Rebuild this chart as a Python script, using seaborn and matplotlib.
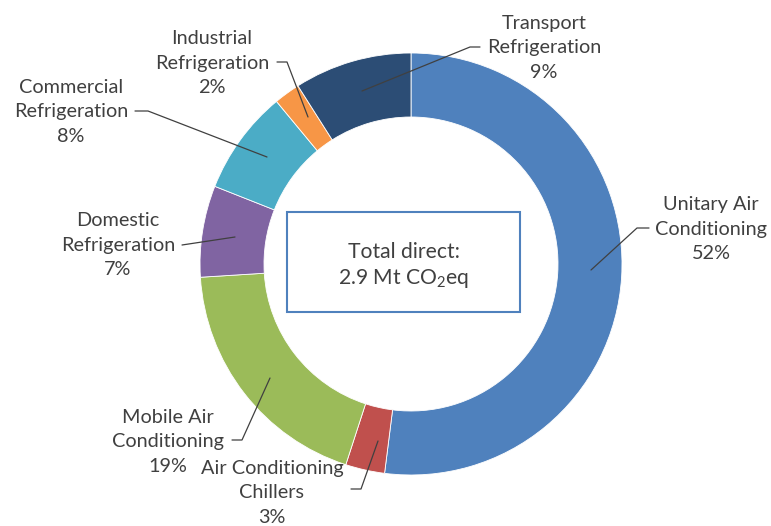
import matplotlib
matplotlib.use("Agg")
import matplotlib.pyplot as plt
import seaborn as sns
from matplotlib.patches import Rectangle

sns.set_theme(style="white")
plt.rcParams['font.family'] = ['Lato', 'DejaVu Sans']

categories = ["Unitary Air\nConditioning", "Air Conditioning\nChillers", "Mobile Air\nConditioning",
              "Domestic\nRefrigeration", "Commercial\nRefrigeration", "Industrial\nRefrigeration",
              "Transport\nRefrigeration"]
shares = [52, 3, 19, 7, 8, 2, 9]
colors = ["#4F81BD", "#C0504D", "#9BBB59", "#8064A2", "#4BACC6", "#F79646", "#2C4D75"]

W, H = 771, 526
fig = plt.figure(figsize=(W / 100, H / 100), dpi=100)
ax = fig.add_axes([0, 0, 1, 1])
ax.set_xlim(0, W)
ax.set_ylim(H, 0)
ax.set_aspect('equal')
ax.axis('off')

cx, cy, R = 411, 264, 211
ax.pie(shares, colors=colors, startangle=-90, counterclock=True, radius=R, center=(cx, cy),
       wedgeprops=dict(width=64, edgecolor='white', linewidth=0.6), frame=False)
ax.set_xlim(0, W)
ax.set_ylim(H, 0)

txt = '#404040'
fs = 14.3
# label text centers (x, y of middle line), leader line points
labels = [
    ((711, 229), [(591, 270), (637, 228), (649, 228)]),
    ((272, 493), [(378, 441), (361, 489), (351, 489)]),
    ((168, 442), [(270, 378), (242, 440), (232, 440)]),
    ((118, 245), [(235, 237), (182, 245)]),
    ((71, 112), [(267, 157), (148, 111), (135, 111)]),
    ((212, 63), [(308, 117), (287, 62), (277, 62)]),
    ((544, 48), [(362, 91), (470, 47), (480, 47)]),
]
for cat, val, (pos, pts) in zip(categories, shares, labels):
    ax.text(pos[0], pos[1], f"{cat}\n{val}%", ha='center', va='center', fontsize=fs,
            color=txt, linespacing=1.52)
    xs = [p[0] for p in pts]
    ys = [p[1] for p in pts]
    ax.plot(xs, ys, color=txt, lw=0.9)

ax.add_patch(Rectangle((287, 212), 233, 100, fill=False, edgecolor='#4F81BD', lw=1.5))
ax.text(404, 252, "Total direct:", ha='center', va='center', fontsize=15.2, color=txt)
ax.text(404, 278, r"2.9 Mt CO$\mathregular{_2}$eq", ha='center', va='center', fontsize=15.2, color=txt)

fig.savefig("out.png", dpi=100, facecolor='white')
